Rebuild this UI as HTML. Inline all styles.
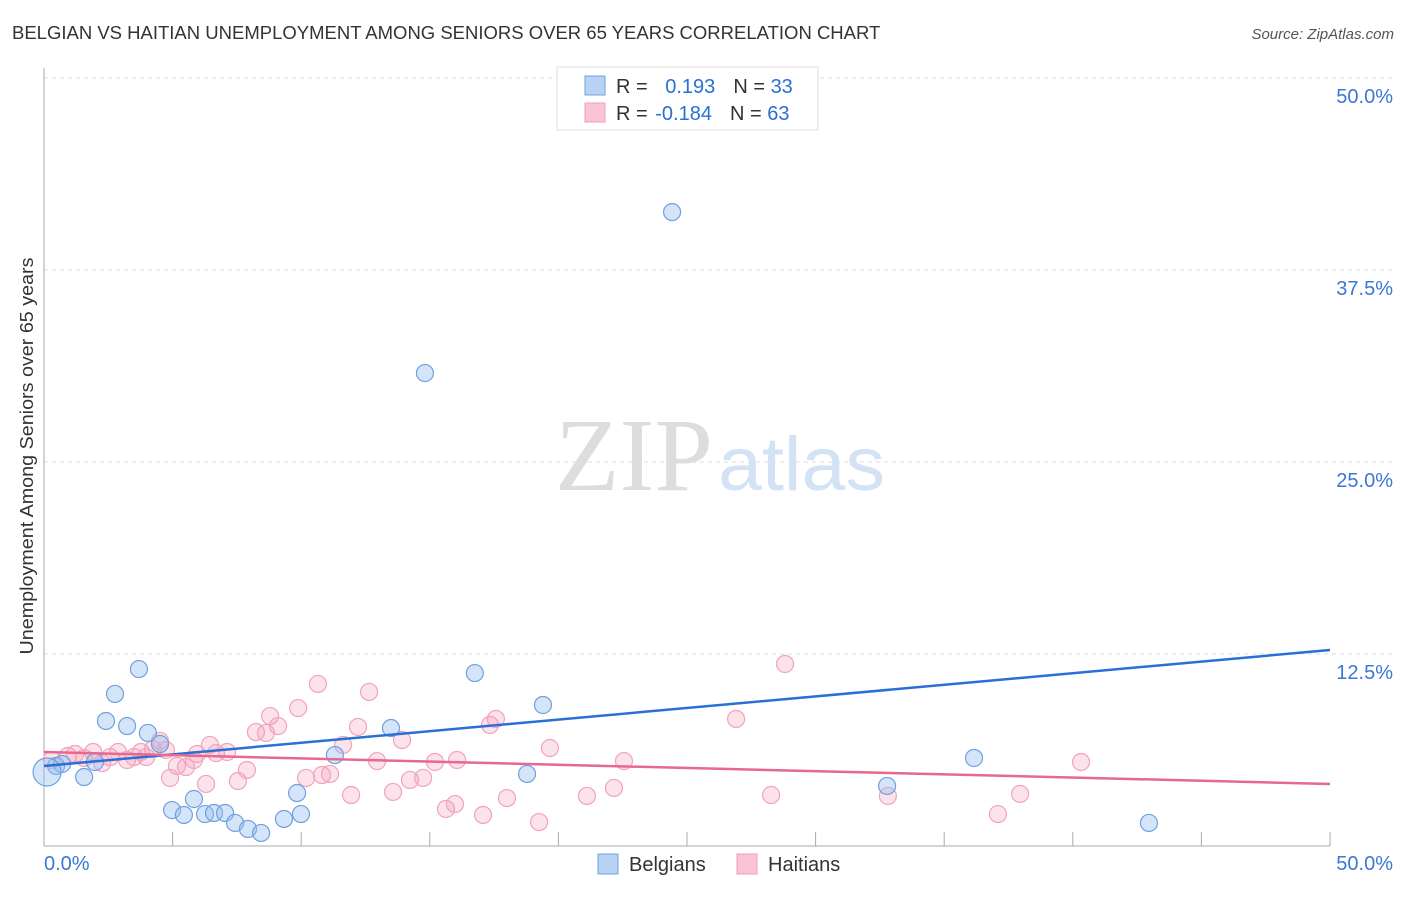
<!DOCTYPE html>
<html><head><meta charset="utf-8"><style>
body{margin:0;background:#fff;font-family:"Liberation Sans",sans-serif}
</style></head><body>
<svg width="1406" height="892" xmlns="http://www.w3.org/2000/svg">
<text x="12" y="39" font-size="18.5" fill="#333">BELGIAN VS HAITIAN UNEMPLOYMENT AMONG SENIORS OVER 65 YEARS CORRELATION CHART</text>
<text x="1394" y="39" font-size="15" fill="#555" font-style="italic" text-anchor="end">Source: ZipAtlas.com</text>
<g id="grid"></g>
<text x="555" y="490" font-size="104" fill="#ddd" font-family="Liberation Serif,serif" textLength="158" lengthAdjust="spacingAndGlyphs">ZIP</text>
<text x="718" y="490" font-size="76" fill="#d4e2f5" textLength="167" lengthAdjust="spacingAndGlyphs">atlas</text>
<g id="pts"></g>
<text transform="translate(33,456) rotate(-90)" font-size="18" fill="#333" text-anchor="middle" textLength="397" lengthAdjust="spacingAndGlyphs">Unemployment Among Seniors over 65 years</text>
<g>
<rect x="557" y="67" width="261" height="63" fill="#fff" stroke="#ddd"/>
<rect x="585" y="76" width="20" height="19" fill="#b8d2f4" stroke="#6fa0e0"/>
<rect x="585" y="103" width="20" height="19" fill="#f9c4d4" stroke="#f0a0b8"/>
<text x="616" y="93" font-size="20" fill="#333">R = <tspan fill="#2a6fd6" dx="12">0.193</tspan><tspan dx="18">N = </tspan><tspan fill="#2a6fd6">33</tspan></text>
<text x="616" y="120" font-size="20" fill="#333">R = <tspan fill="#2a6fd6" dx="2">-0.184</tspan><tspan dx="18">N = </tspan><tspan fill="#2a6fd6">63</tspan></text>
</g>
<g>
<rect x="598" y="854" width="20" height="20" fill="#b8d2f4" stroke="#6fa0e0"/>
<text x="629" y="871" font-size="20" fill="#333">Belgians</text>
<rect x="737" y="854" width="20" height="20" fill="#f9c4d4" stroke="#f0a0b8"/>
<text x="768" y="871" font-size="20" fill="#333">Haitians</text>
</g>
</svg>
<script>
const yTicks=[12.5,25,37.5,50];
const yTickLabels=["12.5%","25.0%","37.5%","50.0%"];
const xTicks=[5,10,15,20,25,30,35,40,45,50];
const belgianX=[3.69,2.76,2.41,3.23,4.04,4.51,1.56,0.47,0.70,1.98,4.98,5.44,5.83,6.26,6.61,7.04,7.43,7.93,8.44,9.33,9.84,9.99,11.31,13.49,14.81,16.75,19.40,18.78,24.42,32.78,36.16,42.96,0.12];
const belgianY=[11.52,9.90,8.14,7.81,7.36,6.64,4.49,5.21,5.34,5.47,2.34,2.02,3.06,2.08,2.15,2.15,1.50,1.11,0.85,1.76,3.45,2.08,5.92,7.68,30.79,11.26,9.18,4.69,41.27,3.91,5.73,1.50,4.82];
const haitianX=[0.31,0.93,1.21,1.56,1.91,2.26,2.57,2.88,3.23,3.50,3.77,4.24,4.51,3.97,4.74,4.90,5.17,5.52,5.83,5.95,6.30,6.45,6.69,7.12,7.54,7.89,8.24,8.63,8.79,9.10,9.88,10.65,10.19,10.81,11.12,11.63,11.94,12.21,12.64,12.95,13.57,13.92,14.23,14.74,15.20,15.63,15.98,16.06,17.07,17.34,17.57,18.00,19.25,19.67,21.11,22.16,22.55,26.91,28.27,28.81,32.81,37.09,37.95,40.32];
const haitianY=[5.60,5.86,5.99,5.73,6.12,5.40,5.79,6.12,5.60,5.79,6.12,6.31,6.84,5.79,6.25,4.43,5.21,5.14,5.60,5.99,4.04,6.58,6.05,6.12,4.23,4.95,7.42,7.36,8.46,7.81,8.98,10.55,4.43,4.62,4.69,6.58,3.32,7.75,10.03,5.53,3.52,6.90,4.30,4.43,5.47,2.41,2.73,5.60,2.02,7.88,8.27,3.12,1.56,6.38,3.26,3.78,5.53,8.27,3.32,11.85,3.26,2.08,3.39,5.47];
const belgianTrend=[5.21,12.76];
const haitianTrend=[6.12,4.04];
const X=v=>44+v/50*1286, Y=v=>846-v/50*768;
const NS="http://www.w3.org/2000/svg";
function mk(t,a,p){const e=document.createElementNS(NS,t);for(const k in a)e.setAttribute(k,a[k]);p.appendChild(e);return e;}
const g=document.getElementById('grid');
yTicks.forEach((t,i)=>{
 const l=mk('line',{x1:44,x2:1392,y1:Y(t),y2:Y(t),stroke:'#ddd','stroke-dasharray':'4,4'},g);
 
 
 const tx=mk('text',{x:1393,y:Y(t)+25,'font-size':20,fill:'#3a78d4','text-anchor':'end'},g);
 tx.textContent=yTickLabels[i];
 
 
});
const ax=mk('line',{x1:44,x2:44,y1:68,y2:846,stroke:'#aaa'},g);


const bx=mk('line',{x1:44,x2:1330,y1:846,y2:846,stroke:'#aaa'},g);


xTicks.forEach(t=>{
 const l=mk('line',{x1:X(t),x2:X(t),y1:832,y2:846,stroke:'#aaa'},g);
 
 
});
const x0=mk('text',{x:44,y:870,'font-size':20,fill:'#3a78d4'},g);x0.textContent='0.0%';


const x1=mk('text',{x:1393,y:870,'font-size':20,fill:'#3a78d4','text-anchor':'end'},g);x1.textContent='50.0%';


const p=document.getElementById('pts');
haitianX.forEach((v,i)=>{
 const c=mk('circle',{cx:X(v),cy:Y(haitianY[i]),r:8.5,fill:'rgba(245,160,190,0.3)',stroke:'#f2a3bb','stroke-width':1.2},p);
 
 
});
belgianX.forEach((v,i)=>{
 const c=mk('circle',{cx:X(v),cy:Y(belgianY[i]),r:i==belgianX.length-1?14:8.5,fill:'rgba(150,190,240,0.4)',stroke:'#6fa0e0','stroke-width':1.2},p);
 
 
});
const bl=mk('line',{x1:X(0),x2:X(50),y1:Y(belgianTrend[0]),y2:Y(belgianTrend[1]),stroke:'#2a6fd6','stroke-width':2.5},p);


const hl=mk('line',{x1:X(0),x2:X(50),y1:Y(haitianTrend[0]),y2:Y(haitianTrend[1]),stroke:'#e8688f','stroke-width':2.5},p);


</script>
</body></html>
